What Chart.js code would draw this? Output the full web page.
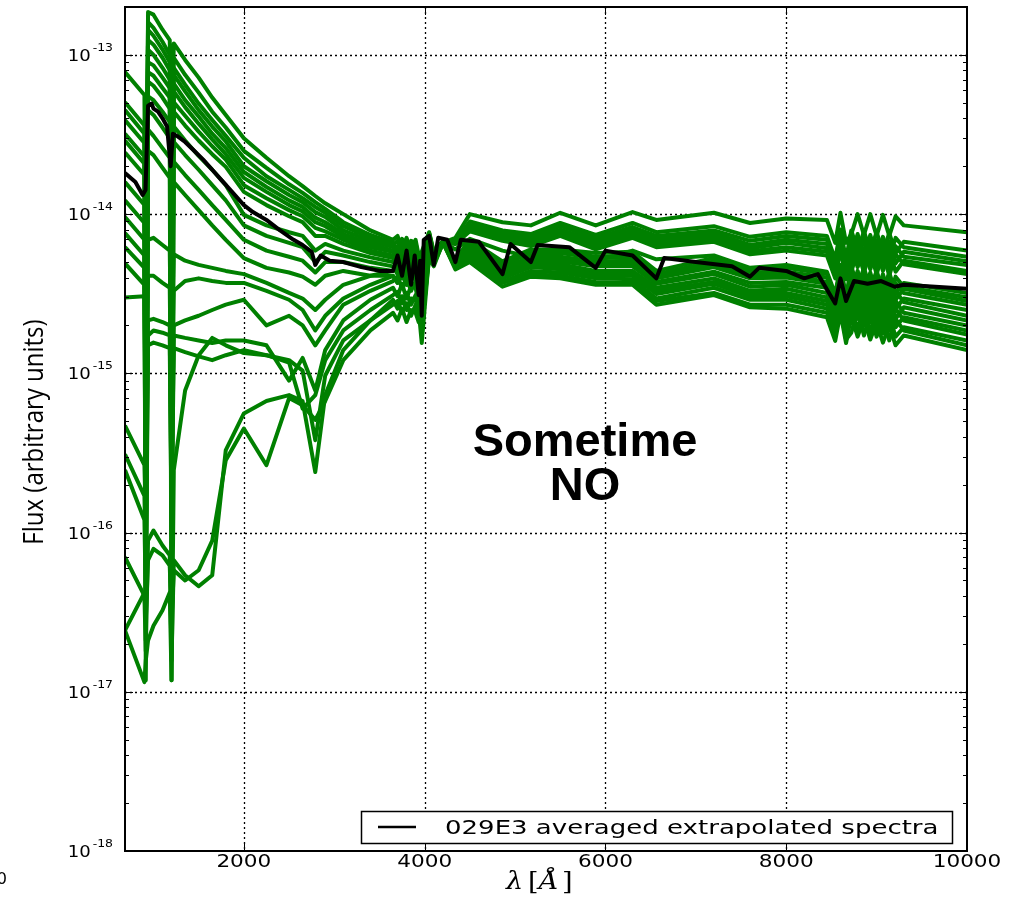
<!DOCTYPE html>
<html>
<head>
<meta charset="utf-8">
<title>029E3 averaged extrapolated spectra</title>
<script src="https://cdn.jsdelivr.net/npm/chart.js@4.4.1/dist/chart.umd.min.js"></script>
<style>
  html, body { margin: 0; padding: 0; background: #fff; }
  canvas { display: block; }
</style>
</head>
<body>
<canvas id="chart" width="1013" height="902"></canvas>
<script>
// flux values below are in units of 1e-15 (arbitrary units)
const FLUX_UNIT = 1e-15;

// wavelength grid (Angstrom) shared by the individual spectra
const WAVELENGTH = [685, 900, 915, 940, 1000, 1100, 1180, 1200, 1225, 1350,
  1500, 1650, 1800, 2000, 2250, 2500, 2650, 2790, 2900, 3100,
  3400, 3650, 3700, 3750, 3800, 3850, 3900, 3934, 3968, 4050,
  4101, 4200, 4340, 4500, 4861, 5175, 5500, 5893, 6300, 6563,
  7200, 7600, 8000, 8450, 8542, 8600, 8662, 8720, 8790, 8860,
  8930, 9000, 9070, 9140, 9210, 9300, 10000];

const SPEC_01 = [78, 56, 1.86, 186, 179, 144, 124, 22, 118, 93, 72, 54, 42, 30, 22.6, 17.3, 15, 13, 11.7, 10,
  7.9, 6.9, 7.3, 6.1, 7.1, 5.9, 6.9, 5.5, 5.8, 7.7, 5.8, 6.7, 4.5, 5.0, 3.5, 4.05, 3.95, 3.6, 3.6, 2.7, 3.1, 2.6, 2.55, 2.25, 1.6, 2.4, 1.55, 2.3, 1.7, 2.2, 1.63, 2.1, 1.56, 2.0, 1.5, 1.73, 1.40];
const SPEC_02 = [50.5, 36, 5.9, 161, 148, 121, 100, 34, 96, 75, 58, 44, 35, 25, 19.5, 15.4, 13.6, 11.9, 10.8, 8.9,
  7.4, 6.6, 5.85, 7.0, 5.7, 6.8, 6.6, 5.3, 5.5, 7.6, 5.7, 6.7, 4.6, 5.1, 3.7, 4.2, 4.1, 3.75, 3.7, 2.85, 3.2, 2.7, 2.7, 2.4, 1.7, 2.55, 1.63, 1.8, 2.5, 1.73, 2.4, 1.7, 2.25, 1.61, 2.2, 1.86, 1.5];
const SPEC_03 = [45, 32, 0.0375, 144, 132, 108, 90, 0.0118, 83, 65, 49.5, 39, 31, 22.6, 17.3, 14.2, 12.6, 11.1, 10.2, 8.4,
  7.1, 6.4, 6.8, 5.7, 6.6, 5.5, 6.4, 5.1, 5.35, 7.5, 5.6, 6.7, 4.65, 5.3, 3.75, 4.4, 4.3, 3.95, 3.9, 2.95, 3.45, 2.9, 2.9, 2.55, 1.78, 2.7, 1.73, 2.6, 1.9, 2.55, 1.84, 2.4, 1.78, 2.3, 1.7, 1.95, 1.61];
const SPEC_04 = [39, 28, 12.2, 124, 116, 96, 80, 39, 75, 59, 45, 35.5, 28.6, 20, 16.1, 13.2, 11.9, 10.3, 9.6, 7.9,
  6.8, 6.2, 5.5, 6.6, 5.35, 6.4, 6.2, 5.0, 5.2, 7.4, 5.5, 6.7, 4.7, 5.5, 3.95, 4.65, 4.5, 4.1, 4.1, 3.15, 3.65, 3.05, 3.05, 2.7, 1.9, 2.95, 1.86, 2.1, 2.85, 2.0, 2.7, 1.9, 2.6, 1.86, 2.55, 2.15, 1.75];
const SPEC_05 = [32, 23, 0.021, 108, 100, 83, 70, 2.9, 66, 52, 41, 32, 26, 18.4, 14.8, 12.2, 11.1, 9.5, 8.9, 7.5,
  6.5, 5.9, 6.3, 5.3, 6.1, 5.1, 5.9, 4.8, 5.0, 7.3, 5.4, 6.7, 4.7, 5.6, 4.0, 4.7, 4.65, 4.2, 4.2, 3.3, 3.75, 3.2, 3.2, 2.85, 2.0, 3.05, 1.95, 2.95, 2.2, 2.9, 2.1, 2.75, 2.0, 2.7, 1.95, 2.25, 1.86];
const SPEC_06 = [29, 20.7, 7.9, 90, 86, 72, 62, 12.2, 59, 47, 37, 29.5, 23.8, 16.9, 13.8, 11.4, 10.4, 8.9, 8.4, 7.2,
  6.2, 5.8, 5.1, 6.1, 5.0, 5.9, 5.8, 4.65, 4.85, 7.2, 5.35, 6.7, 4.8, 5.8, 4.2, 4.9, 4.85, 4.4, 4.4, 3.45, 3.95, 3.3, 3.4, 3.0, 2.1, 3.2, 2.05, 2.3, 3.15, 2.25, 3.05, 2.15, 2.9, 2.1, 2.85, 2.4, 2.0];
const SPEC_07 = [24.4, 17.6, 0.067, 78, 74, 62, 54, 0.51, 50.5, 41.5, 33, 26.7, 22, 15.2, 12.6, 10.6, 9.7, 8.2, 7.8, 6.9,
  5.9, 5.5, 5.85, 4.9, 5.7, 4.8, 5.5, 4.4, 4.65, 7.1, 5.3, 6.7, 4.85, 5.9, 4.3, 5.1, 5.05, 4.7, 4.7, 3.65, 4.2, 3.5, 3.6, 3.2, 2.25, 3.5, 2.2, 3.4, 2.45, 3.2, 2.4, 3.15, 2.3, 3.05, 2.2, 2.6, 2.15];
const SPEC_08 = [15.9, 11.4, 0.0118, 68, 64, 54, 46, 5.9, 44, 36, 29, 23.8, 19.8, 13.8, 11.4, 9.7, 8.9, 7.3, 7.3, 6.5,
  5.7, 5.3, 4.7, 5.6, 4.6, 5.4, 5.3, 4.2, 4.4, 7.0, 5.2, 6.7, 4.9, 6.1, 4.4, 5.3, 5.2, 4.85, 4.9, 3.75, 4.35, 3.7, 3.75, 3.45, 2.4, 3.7, 2.4, 2.6, 3.65, 2.55, 3.5, 2.5, 3.4, 2.4, 3.3, 2.8, 2.3];
const SPEC_09 = [12.2, 8.8, 3.8, 55, 52, 44, 38, 0.16, 35.5, 29, 23.2, 19, 15.2, 9.9, 8.5, 7.7, 7.3, 5.9, 6.5, 5.9,
  5.35, 5.0, 5.3, 4.4, 5.1, 4.3, 5.0, 4.0, 4.2, 6.9, 5.1, 6.7, 5.0, 6.3, 4.6, 5.4, 5.4, 5.05, 5.1, 3.95, 4.65, 3.95, 4.0, 3.65, 2.55, 3.95, 2.55, 3.8, 2.8, 3.7, 2.7, 3.6, 2.6, 3.5, 2.55, 2.95, 2.5];
const SPEC_10 = [9.6, 6.9, 0.90, 45, 42, 35, 30, 9.2, 28.4, 23.5, 19, 15.2, 12.2, 8.5, 7.3, 6.6, 6.2, 5.0, 5.8, 5.5,
  5.0, 4.7, 4.2, 5.0, 4.05, 4.85, 4.7, 3.75, 3.95, 6.8, 5.05, 6.7, 5.05, 6.5, 4.8, 5.7, 5.7, 5.3, 5.35, 4.1, 4.85, 4.1, 4.2, 3.75, 2.7, 4.1, 2.6, 2.95, 4.0, 2.9, 3.9, 2.8, 3.75, 2.7, 3.7, 3.2, 2.7];
const SPEC_11 = [7.6, 5.5, 0.247, 34, 31, 26, 22.6, 1.40, 21.3, 17.6, 14.2, 11.4, 9.2, 6.9, 5.9, 5.4, 5.1, 4.3, 5.0, 5.0,
  4.6, 4.4, 4.7, 3.95, 4.6, 3.8, 4.4, 3.6, 3.7, 6.7, 5.0, 6.7, 5.1, 6.7, 4.9, 5.85, 5.85, 5.4, 5.5, 4.2, 5.05, 4.3, 4.35, 4.0, 2.9, 4.35, 2.8, 4.2, 3.15, 4.1, 3.05, 4.0, 2.95, 3.9, 2.9, 3.4, 2.85];
const SPEC_12 = [6.2, 4.6, 0.028, 25, 23.5, 19.5, 16.9, 0.0375, 15.9, 13.2, 10.6, 8.5, 6.9, 5.3, 4.6, 4.3, 4.05, 3.6, 4.1, 4.4,
  4.1, 4.1, 3.7, 4.35, 3.6, 4.2, 4.1, 3.3, 3.5, 6.6, 4.9, 6.7, 5.2, 6.9, 5.05, 6.0, 6.0, 5.7, 5.8, 4.4, 5.3, 4.5, 4.6, 4.2, 3.0, 4.6, 2.9, 3.3, 4.4, 3.2, 4.3, 3.1, 4.2, 3.0, 4.05, 3.5, 3.0];
const SPEC_13 = [4.9, 3.6, 0.33, 6.9, 7.1, 6.4, 5.9, 0.90, 5.6, 5.1, 4.8, 4.6, 4.4, 4.2, 3.7, 3.2, 2.95, 2.5, 2.9, 3.6,
  4.1, 4.4, 4.7, 3.95, 4.6, 3.8, 4.4, 3.3, 2.9, 6.5, 5.8, 6.7, 6.0, 7.0, 5.9, 5.4, 6.2, 5.1, 5.9, 5.2, 5.5, 4.6, 4.8, 4.35, 3.15, 4.8, 3.05, 4.7, 3.5, 4.6, 3.4, 4.4, 3.3, 4.3, 3.2, 3.7, 3.2];
const SPEC_14 = [3.0, 3.05, 0.089, 4.1, 4.1, 3.7, 3.45, 0.38, 3.3, 3.8, 3.95, 3.8, 3.7, 3.7, 3.3, 2.9, 2.5, 1.86, 2.3, 2.95,
  3.6, 4.1, 3.7, 4.35, 3.6, 4.2, 4.1, 2.95, 2.5, 6.3, 5.6, 6.8, 6.5, 7.8, 6.8, 6.3, 7.3, 6.0, 7.1, 6.2, 6.7, 5.6, 5.9, 5.5, 3.95, 6.0, 3.9, 4.35, 5.9, 4.3, 5.85, 4.2, 5.7, 4.1, 5.6, 4.85, 4.2];
const SPEC_15 = [0.47, 0.265, 0.12, 2.15, 2.2, 2.1, 2.0, 0.285, 2.0, 2.15, 2.3, 2.5, 2.7, 2.9, 2.0, 2.3, 2.0, 1.5, 1.86, 2.7,
  3.3, 3.8, 4.05, 3.45, 3.95, 3.3, 3.8, 2.9, 2.7, 6.1, 5.4, 6.7, 6.5, 8.0, 7.0, 6.5, 7.5, 6.3, 7.4, 6.5, 7.0, 5.85, 6.2, 5.8, 4.1, 6.4, 4.05, 6.2, 4.65, 6.1, 4.5, 6.0, 4.4, 5.9, 4.35, 5.1, 4.4];
const SPEC_16 = [0.31, 0.17, 0.067, 1.73, 1.86, 1.8, 1.73, 0.16, 1.73, 1.67, 1.61, 1.55, 1.61, 1.61, 1.5, 0.9, 1.25, 0.78, 1.40, 2.15,
  2.9, 3.45, 3.05, 3.65, 2.95, 3.55, 3.45, 2.7, 2.15, 5.9, 5.3, 6.7, 6.6, 8.3, 7.3, 6.7, 7.8, 6.6, 7.7, 6.8, 7.3, 6.1, 6.6, 6.1, 4.35, 6.8, 4.3, 4.9, 6.6, 4.8, 6.5, 4.7, 6.4, 4.65, 6.3, 5.4, 4.8];
const SPEC_17 = [0.247, 0.12, 0.0375, 1.5, 1.56, 1.5, 1.44, 0.12, 1.44, 1.36, 1.28, 1.21, 1.30, 1.40, 1.30, 1.17, 0.6, 0.73, 1.21, 1.86,
  2.5, 3.1, 3.25, 2.75, 3.2, 2.7, 3.1, 2.4, 1.86, 5.8, 5.1, 6.6, 6.6, 8.4, 7.4, 6.9, 8.0, 6.8, 7.9, 7.0, 7.6, 6.4, 6.9, 6.5, 4.65, 7.2, 4.6, 7.0, 5.2, 6.9, 5.05, 6.8, 5.0, 6.7, 4.9, 5.8, 5.05];
const SPEC_18 = [0.0243, 0.0115, 0.0157, 0.021, 0.026, 0.0325, 0.042, 0.0118, 0.247, 0.78, 1.30, 1.67, 1.5, 1.34, 1.30, 1.21, 1.04, 0.38, 0.97, 1.61,
  2.15, 2.9, 2.55, 3.05, 2.5, 2.95, 2.9, 2.5, 1.55, 5.6, 5.0, 6.5, 6.6, 8.6, 7.6, 7.2, 8.4, 7.1, 8.3, 7.3, 7.9, 6.8, 7.3, 6.9, 4.9, 7.6, 4.85, 5.5, 7.5, 5.4, 7.4, 5.35, 7.2, 5.3, 7.1, 6.2, 5.4];
const SPEC_19 = [0.07, 0.04, 0.018, 0.089, 0.103, 0.083, 0.072, 0.0157, 0.067, 0.054, 0.046, 0.054, 0.33, 0.56, 0.67, 0.73, 0.67, 0.24, 0.73, 1.40,
  2.15, 2.7, 2.85, 2.4, 2.75, 2.3, 2.7, 2.2, 2.3, 5.4, 4.85, 6.5, 6.7, 9.0, 7.9, 7.5, 8.8, 7.4, 8.8, 7.7, 8.4, 7.2, 7.7, 7.3, 5.2, 8.0, 5.2, 7.9, 5.9, 7.8, 5.85, 7.7, 5.8, 7.6, 5.7, 6.7, 5.9];
const SPEC_20 = [0.0243, 0.042, 0.028, 0.067, 0.079, 0.072, 0.062, 0.028, 0.058, 0.05, 0.058, 0.089, 0.285, 0.45, 0.265, 0.70, 0.63, 0.51, 0.67, 1.21,
  1.86, 2.4, 2.15, 2.55, 2.1, 2.5, 2.4, 2.1, 2.0, 5.3, 4.7, 6.6, 7.1, 10.0, 8.9, 8.5, 10.2, 8.5, 10.3, 9.2, 10.2, 8.8, 9.4, 9.2, 6.6, 10.2, 6.6, 7.5, 10.0, 7.4, 10.0, 7.3, 9.9, 7.3, 9.7, 8.5, 7.7];

const GREEN_SPECTRA = [SPEC_01, SPEC_02, SPEC_03, SPEC_04, SPEC_05, SPEC_06, SPEC_07,
  SPEC_08, SPEC_09, SPEC_10, SPEC_11, SPEC_12, SPEC_13, SPEC_14, SPEC_15, SPEC_16,
  SPEC_17, SPEC_18, SPEC_19, SPEC_20];

// averaged spectrum, on its own (finer) wavelength grid
const AVG_WAVELENGTH = [685, 800, 880, 912, 940, 980, 1000, 1050, 1100, 1150,
  1190, 1215, 1260, 1350, 1450, 1550, 1650, 1750, 1850, 2000,
  2100, 2250, 2400, 2550, 2650, 2750, 2790, 2850, 2950, 3100,
  3300, 3500, 3650, 3700, 3750, 3800, 3850, 3890, 3934, 3950,
  3968, 3990, 4050, 4101, 4150, 4250, 4340, 4400, 4600, 4861,
  4950, 5175, 5250, 5600, 5893, 6000, 6300, 6563, 6650, 7000,
  7400, 7600, 7700, 8000, 8200, 8350, 8542, 8600, 8662, 8750,
  8900, 9050, 9200, 9300, 10000];
const AVG_FLUX = [18.1, 15.9, 13.2, 14.2, 48, 49.5, 46, 44, 40, 35.5,
  20, 32, 31, 28.4, 25, 22, 19, 16.4, 14.2, 11.4,
  10.3, 9.2, 7.9, 6.9, 6.4, 5.8, 4.8, 5.5, 5.1, 5.0,
  4.65, 4.4, 4.4, 5.5, 4.1, 5.9, 3.6, 5.5, 3.1, 5.1,
  2.3, 6.9, 7.3, 4.8, 7.1, 6.9, 5.0, 6.9, 6.7, 4.2,
  6.5, 5.0, 6.4, 6.2, 4.6, 5.9, 5.5, 3.95, 5.3, 5.0,
  4.7, 4.05, 4.6, 4.4, 3.95, 4.2, 2.75, 3.95, 2.85, 3.8,
  3.65, 3.8, 3.5, 3.6, 3.4];

const X_TICKS = [2000, 4000, 6000, 8000, 10000];
const X_TICK_LABELS = ["2000", "4000", "6000", "8000", "10000"];
const Y_TICKS = [1e-18, 1e-17, 1e-16, 1e-15, 1e-14, 1e-13];
const Y_TICK_EXPONENTS = ["-18", "-17", "-16", "-15", "-14", "-13"];
const LEGEND_LABEL = "029E3 averaged extrapolated spectra";

const GREEN = "#008000";

const toPoints = (waves, flux) => waves.map((w, i) => ({ x: w, y: flux[i] * FLUX_UNIT }));

// text squeezed/stretched horizontally like the rest of the figure
function drawText(ctx, text, x, y, font, align, sx) {
  ctx.save();
  ctx.font = font;
  ctx.textAlign = align;
  ctx.textBaseline = "alphabetic";
  ctx.translate(x, y);
  ctx.scale(sx, 1);
  ctx.fillText(text, 0, 0);
  ctx.restore();
}

const decor = {
  id: "decor",
  beforeDatasetsDraw(chart) {
    const { ctx, chartArea: a, scales: { x, y } } = chart;
    // dotted grid at the major ticks
    ctx.save();
    ctx.strokeStyle = "#000";
    ctx.lineWidth = 1.3;
    ctx.setLineDash([2, 3]);
    ctx.beginPath();
    X_TICKS.forEach((v) => {
      const px = Math.round(x.getPixelForValue(v)) + 0.5;
      if (px > a.right - 3) return;
      ctx.moveTo(px, a.top);
      ctx.lineTo(px, a.bottom);
    });
    Y_TICKS.forEach((v) => {
      const py = Math.round(y.getPixelForValue(v)) + 0.5;
      if (py > a.bottom - 3) return;
      ctx.moveTo(a.left, py);
      ctx.lineTo(a.right, py);
    });
    ctx.stroke();
    ctx.restore();
  },
  afterDraw(chart) {
    const { ctx, chartArea: a, scales: { x, y } } = chart;
    ctx.save();
    ctx.fillStyle = "#000";
    ctx.strokeStyle = "#000";

    // tick marks, pointing inwards on all four sides
    ctx.lineWidth = 1;
    ctx.beginPath();
    X_TICKS.forEach((v) => {
      const px = Math.round(x.getPixelForValue(v)) + 0.5;
      ctx.moveTo(px, a.bottom);
      ctx.lineTo(px, a.bottom - 8);
      ctx.moveTo(px, a.top);
      ctx.lineTo(px, a.top + 8);
    });
    Y_TICKS.forEach((dec) => {
      for (let k = 1; k <= 9; k++) {
        const v = k * dec;
        if (v > y.max) break;
        const py = Math.round(y.getPixelForValue(v)) + 0.5;
        const len = k === 1 ? 8 : 4;
        ctx.moveTo(a.left, py);
        ctx.lineTo(a.left + len, py);
        ctx.moveTo(a.right, py);
        ctx.lineTo(a.right - len, py);
      }
    });
    ctx.stroke();

    // axes frame
    ctx.lineWidth = 2;
    ctx.strokeRect(a.left, a.top, a.right - a.left, a.bottom - a.top);

    // tick labels
    X_TICKS.forEach((v, i) => {
      drawText(ctx, X_TICK_LABELS[i], x.getPixelForValue(v), a.bottom + 16,
        '18px "DejaVu Sans"', "center", 1.2);
    });
    Y_TICKS.forEach((v, i) => {
      const py = y.getPixelForValue(v);
      drawText(ctx, Y_TICK_EXPONENTS[i], a.left - 12, py - 4,
        '11px "DejaVu Sans"', "right", 1.13);
      ctx.font = '11px "DejaVu Sans"';
      const ew = ctx.measureText(Y_TICK_EXPONENTS[i]).width * 1.13;
      drawText(ctx, "10", a.left - 14 - ew, py + 6, '16px "DejaVu Sans"', "right", 1.13);
    });

    // axis titles
    ctx.save();
    ctx.translate(35, 432);
    ctx.rotate(-Math.PI / 2);
    ctx.scale(1, 1.13);
    ctx.font = '24px "Open Sans"';
    ctx.textAlign = "center";
    ctx.textBaseline = "middle";
    ctx.fillText("Flux (arbitrary units)", 0, 0);
    ctx.restore();

    const serif = '"DejaVu Serif"';
    drawText(ctx, "\u03bb", 506, 889, "italic 24px " + serif, "left", 1.13);
    drawText(ctx, "[", 528, 889, "24px " + serif, "left", 1.13);
    drawText(ctx, "\u00c5", 539, 889, "italic 24px " + serif, "left", 1.13);
    drawText(ctx, "]", 562, 889, "24px " + serif, "left", 1.13);

    // legend box
    ctx.fillStyle = "#fff";
    ctx.fillRect(361, 811, 591, 32);
    ctx.lineWidth = 1.5;
    ctx.strokeRect(361.5, 811.5, 591, 32);
    ctx.lineWidth = 2.5;
    ctx.beginPath();
    ctx.moveTo(378, 827);
    ctx.lineTo(416, 827);
    ctx.stroke();
    ctx.fillStyle = "#000";
    drawText(ctx, LEGEND_LABEL, 445, 834, '20px "DejaVu Sans"', "left", 1.3);

    // stamp over the plot
    ctx.font = 'bold 47px "Liberation Sans"';
    ctx.textAlign = "center";
    ctx.textBaseline = "alphabetic";
    ctx.fillText("Sometime", 585, 456);
    ctx.fillText("NO", 585, 500);

    // clipped label at the very edge of the figure
    drawText(ctx, "0", 7, 884, '16px "DejaVu Sans"', "right", 1.0);
    ctx.restore();
  },
};

const datasets = [{
  label: LEGEND_LABEL,
  data: toPoints(AVG_WAVELENGTH, AVG_FLUX),
  borderColor: "#000",
  borderWidth: 4,
}].concat(GREEN_SPECTRA.map((spec, i) => ({
  label: "spectrum " + (i + 1),
  data: toPoints(WAVELENGTH, spec),
  borderColor: GREEN,
  borderWidth: 4,
})));

new Chart(document.getElementById("chart"), {
  type: "line",
  data: { datasets },
  options: {
    responsive: false,
    animation: false,
    devicePixelRatio: 1,
    layout: { padding: { left: 125, right: 46, top: 7, bottom: 51 } },
    elements: {
      point: { radius: 0 },
      line: { tension: 0, borderJoinStyle: "round", borderCapStyle: "butt" },
    },
    scales: {
      x: { type: "linear", min: 685, max: 10000, display: false },
      y: { type: "logarithmic", min: 1e-18, max: 2e-13, display: false },
    },
    plugins: {
      legend: { display: false },
      tooltip: { enabled: false },
    },
  },
  plugins: [decor],
});
</script>
</body>
</html>
